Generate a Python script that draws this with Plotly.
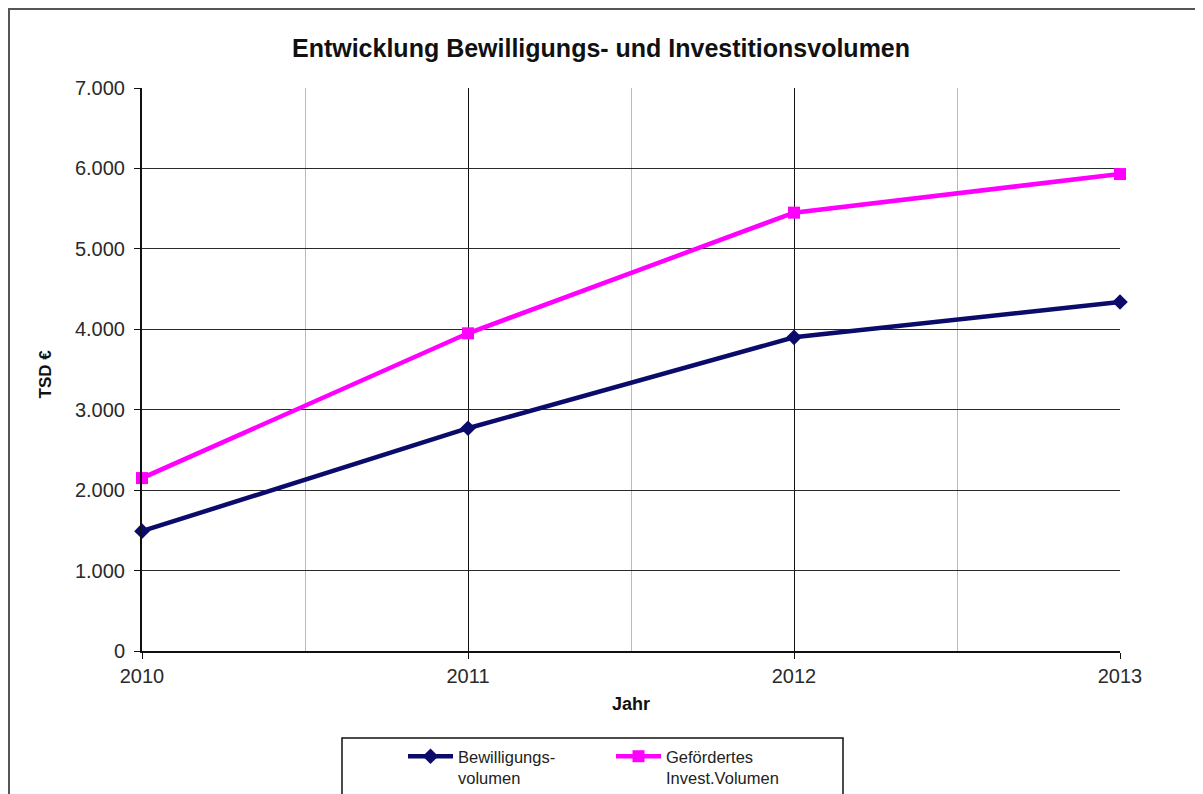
import plotly.graph_objects as go

years = [2010, 2011, 2012, 2013]
bewilligung = [1490, 2770, 3900, 4340]
invest = [2150, 3950, 5450, 5930]
y_ticks = [0, 1000, 2000, 3000, 4000, 5000, 6000, 7000]

# the page adds an 8px body margin, so the figure is drawn 8px smaller
OFF = 8
W, H = 1203 - OFF, 794 - OFF
L, R, T, B = 142 - OFF, 1120 - OFF, 88 - OFF, 651 - OFF


def px_x(p):
    """screenshot x pixel -> paper coordinate"""
    return (p - OFF - L) / (R - L)


def px_y(p):
    """screenshot y pixel -> paper coordinate"""
    return (B - (p - OFF)) / (B - T)


fig = go.Figure()
fig.add_trace(go.Scatter(
    x=years, y=bewilligung, name="Bewilligungs-<br>volumen",
    mode="lines+markers", cliponaxis=False,
    line=dict(color="#0b0b6b", width=4.5),
    marker=dict(symbol="diamond", size=12, color="#0b0b6b"),
))
fig.add_trace(go.Scatter(
    x=years, y=invest, name="Gefördertes<br>Invest.Volumen",
    mode="lines+markers", cliponaxis=False,
    line=dict(color="#ff00ff", width=4.5),
    marker=dict(symbol="square", size=12, color="#ff00ff"),
))

fig.update_layout(
    width=W, height=H,
    margin=dict(l=L, r=W - R, t=T, b=H - B, autoexpand=False),
    paper_bgcolor="white", plot_bgcolor="white",
    separators=",.",
    font=dict(family="Liberation Sans, Arial", color="#2a2a2a", size=20),
    title=dict(text="<b>Entwicklung Bewilligungs- und Investitionsvolumen</b>",
               x=px_x(601), xref="paper", xanchor="center",
               y=1 - (48 - OFF) / H, yanchor="middle",
               font=dict(size=25, color="#111111")),
    showlegend=True,
    legend=dict(orientation="h", x=px_x(403), y=px_y(739),
                xanchor="left", yanchor="top", valign="top",
                entrywidth=148, entrywidthmode="pixels",
                bgcolor="rgba(0,0,0,0)", font=dict(size=16.5, color="#222222"),
                itemwidth=45),
    xaxis=dict(range=[2010, 2013], tickvals=years, ticktext=[str(y) for y in years],
               showgrid=True, gridcolor="#111111", gridwidth=1,
               minor=dict(dtick=0.5, tick0=2010, showgrid=True, gridcolor="#bbbbbb", gridwidth=1),
               showline=True, linecolor="#111111", linewidth=2,
               ticks="outside", ticklen=6, tickcolor="#111111",
               zeroline=False, fixedrange=True),
    yaxis=dict(range=[0, 7000], tickvals=y_ticks, tickformat=",d",
               showgrid=True, gridcolor="#2a2a2a", gridwidth=1,
               showline=True, linecolor="#111111", linewidth=2,
               ticks="outside", ticklen=6, tickcolor="#111111",
               ticklabelstandoff=5,
               zeroline=False, fixedrange=True),
    annotations=[
        dict(text="<b>TSD €</b>", x=px_x(33), y=px_y(374), xref="paper", yref="paper",
             textangle=-90, showarrow=False, font=dict(size=17, color="#111111")),
        dict(text="<b>Jahr</b>", x=px_x(631), y=px_y(716), xref="paper", yref="paper",
             showarrow=False, font=dict(size=18, color="#111111")),
    ],
    shapes=[
        dict(type="rect", xref="paper", yref="paper",
             x0=px_x(9), x1=px_x(1240), y0=px_y(9), y1=px_y(840),
             line=dict(color="#555555", width=2), layer="below"),
        dict(type="rect", xref="paper", yref="paper",
             x0=px_x(342), x1=px_x(843), y0=px_y(738), y1=px_y(840),
             line=dict(color="#111111", width=1.5), layer="below"),
    ],
)

fig.write_html("out.html")
